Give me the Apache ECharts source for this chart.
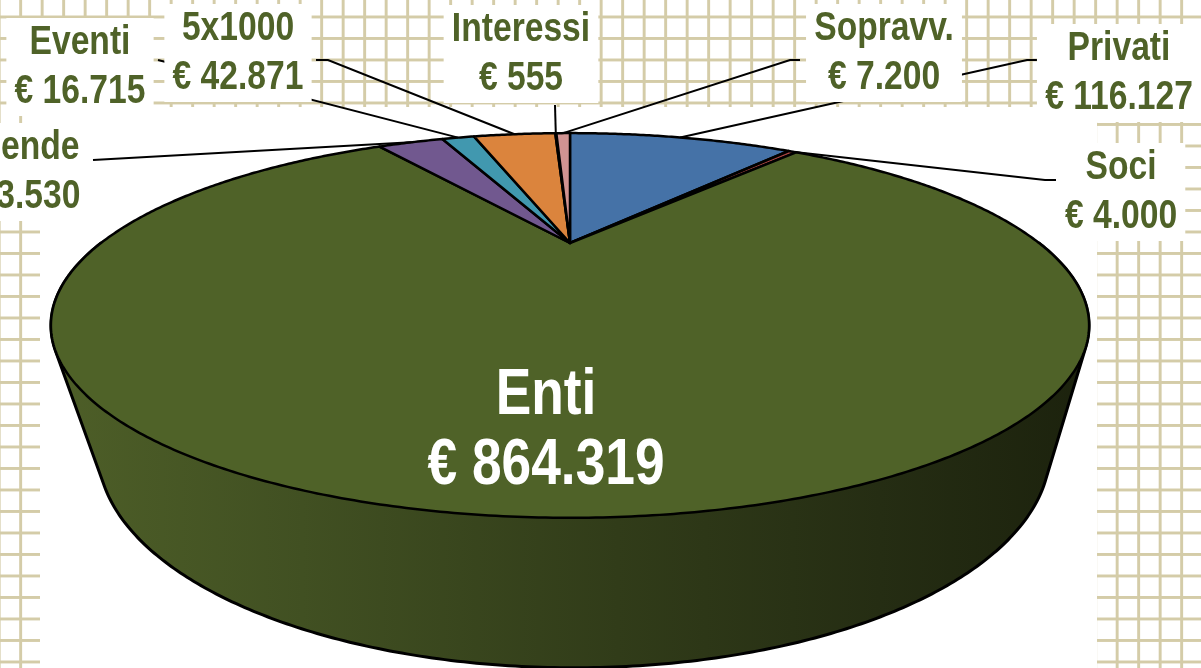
<!DOCTYPE html>
<html>
<head>
<meta charset="utf-8">
<title>Entrate</title>
<script src="https://cdn.jsdelivr.net/npm/echarts@6/dist/echarts.min.js"></script>
<style>
html, body {
    margin: 0; padding: 0; width: 1201px; height: 668px; overflow: hidden;
    background-color: #fff;
    background-image: linear-gradient(to right, #d4cca8 3px, transparent 3px),
                      linear-gradient(to bottom, #d4cca8 3px, transparent 3px);
    background-size: 21.5px 21.5px;
    background-position: 19.2px 15.5px;
}
#main { width: 1201px; height: 668px; }
</style>
</head>
<body>
<div id="main"></div>
<script>
// dati della torta (ordine di Excel: si parte dalle ore 12 in senso orario)
var voci = ['Privati', 'Soci', 'Enti', 'Aziende', 'Eventi', '5x1000', 'Interessi', 'Sopravv.'];
var importi = [116127, 4000, 864319, 33530, 16715, 42871, 555, 7200];
var colori = ['#4572A7', '#AA4643', '#4F6228', '#71588F', '#4198AF', '#DB843D', '#93A9CF', '#D19392'];

// dove stanno le etichette (centro del testo) e da dove parte la linea guida
var posEtichette = [
    {x: 1119, y: 73,  linea: [[1037, 60], [1027, 60]]},
    {x: 1121, y: 192, linea: [[1056, 180], [1045, 180]]},
    {x: 546,  y: 431, linea: null},
    {x: 15,   y: 172, linea: [[93, 160]]},
    {x: 80,   y: 67,  linea: [[158, 60]]},
    {x: 238,  y: 53,  linea: [[316, 60], [328, 60]]},
    {x: 521,  y: 54,  linea: [[555, 105]]},
    {x: 884,  y: 53,  linea: [[800, 60], [790, 60]]}
];

// ellisse della faccia superiore e di quella inferiore (prospettiva)
var sopra = {cx: 570, cy: 243, a: 469, b: 157, k: 0.4286};
var sotto = {cx: 574, cy: 358, a: 430, b: 177, k: 0.4286};

// niente Arial Narrow: Liberation Sans stretta in orizzontale
var FONT = '"Liberation Sans", Arial, sans-serif';
var STRETTO = 0.82;

function proietta(p, gradi) {
    var t = gradi * Math.PI / 180, s = Math.sin(t), c = Math.cos(t);
    var w = 1 / (1 + p.k * c);
    return [p.cx + p.a * s * w, p.cy - p.b * c * w];
}

function arco(p, da, a) {
    var pts = [];
    var n = Math.max(2, Math.ceil((a - da) / 0.5));
    for (var i = 0; i <= n; i++) pts.push(proietta(p, da + (a - da) * i / n));
    return pts;
}

function inviluppo(pts) {
    pts = pts.slice().sort(function (p, q) { return p[0] - q[0] || p[1] - q[1]; });
    function cross(o, a, b) { return (a[0] - o[0]) * (b[1] - o[1]) - (a[1] - o[1]) * (b[0] - o[0]); }
    var lower = [], upper = [];
    for (var i = 0; i < pts.length; i++) {
        while (lower.length >= 2 && cross(lower[lower.length - 2], lower[lower.length - 1], pts[i]) <= 0) lower.pop();
        lower.push(pts[i]);
    }
    for (var j = pts.length - 1; j >= 0; j--) {
        while (upper.length >= 2 && cross(upper[upper.length - 2], upper[upper.length - 1], pts[j]) <= 0) upper.pop();
        upper.push(pts[j]);
    }
    upper.pop(); lower.pop();
    return lower.concat(upper);
}

function euro(v) {
    return '€ ' + String(v).replace(/\B(?=(\d{3})+(?!\d))/g, '.');
}

var totale = 0;
for (var i = 0; i < importi.length; i++) totale += importi[i];
var inizio = [], fine = [], acc = 0;
for (var i = 0; i < importi.length; i++) {
    inizio.push(acc / totale * 360);
    acc += importi[i];
    fine.push(acc / totale * 360);
}

var fianco = new echarts.graphic.LinearGradient(40, 0, 1090, 0, [
    {offset: 0, color: '#4e5f28'},
    {offset: 0.25, color: '#415022'},
    {offset: 0.55, color: '#313c19'},
    {offset: 0.8, color: '#252d13'},
    {offset: 1, color: '#1c220d'}
], true);

function disegna(params, api) {
    var i = params.dataIndex;
    var da = inizio[i], a = fine[i];
    var figli = [];
    var bordo = arco(sopra, da, a);

    // parte frontale del fianco (tra 90 e 270 gradi)
    var f0 = Math.max(da, 90), f1 = Math.min(a, 270);
    if (f1 > f0) {
        var punti = arco(sopra, f0, f1).concat(arco(sotto, f0, f1));
        figli.push({
            type: 'polygon', z2: 1,
            shape: {points: inviluppo(punti)},
            style: {fill: fianco, stroke: '#000', lineWidth: 3, lineJoin: 'round'}
        });
    }

    figli.push({
        type: 'polygon', z2: 2,
        shape: {points: [[sopra.cx, sopra.cy]].concat(bordo)},
        style: {fill: colori[i], stroke: '#000', lineWidth: 2.5, lineJoin: 'round'}
    });

    var pos = posEtichette[i];
    var testo = voci[i] + '\n' + euro(api.value(0));
    if (pos.linea) {
        var fineLinea = proietta(sopra, (da + a) / 2);
        figli.push({
            type: 'polyline', z2: 5,
            shape: {points: pos.linea.concat([fineLinea])},
            style: {stroke: '#000', lineWidth: 2, fill: null}
        });
        figli.push({
            type: 'text', z2: 10, x: pos.x, y: pos.y, scaleX: STRETTO,
            style: {
                text: testo, font: 'bold 41px ' + FONT, fill: '#4F6228',
                align: 'center', verticalAlign: 'middle', lineHeight: 49,
                backgroundColor: '#fff', padding: [0, 10]
            }
        });
    } else {
        figli.push({
            type: 'text', z2: 10, x: pos.x, y: pos.y, scaleX: STRETTO,
            style: {
                text: testo, font: 'bold 65px ' + FONT, fill: '#fff',
                align: 'center', verticalAlign: 'middle', lineHeight: 70
            }
        });
    }
    return {type: 'group', children: figli};
}

var chart = echarts.init(document.getElementById('main'));
chart.setOption({
    animation: false,
    graphic: [{
        type: 'rect', z: 0,
        shape: {x: 40, y: 107, width: 1057, height: 561},
        style: {fill: '#fff'}
    }],
    series: [{
        type: 'custom',
        coordinateSystem: 'none',
        silent: true,
        z: 2,
        renderItem: disegna,
        data: importi
    }]
});
</script>
</body>
</html>
